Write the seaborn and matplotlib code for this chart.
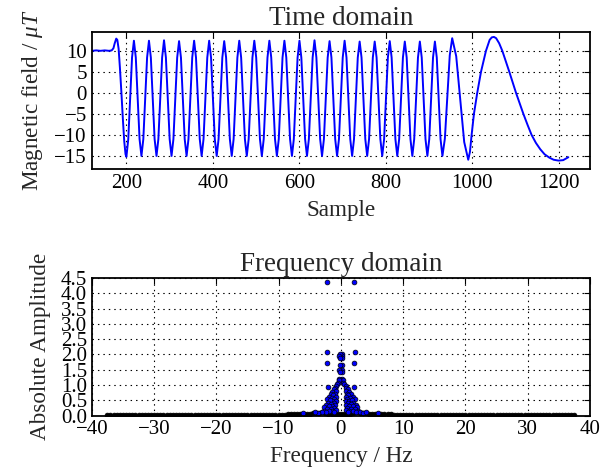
import numpy as np
import pandas as pd
import matplotlib
matplotlib.use("Agg")
import matplotlib.pyplot as plt
import seaborn as sns

# ---- time domain: magnetic field (uT) ----
lead_sample = [121, 130, 140, 150, 160, 166, 170, 173, 176.5, 179, 182, 185, 188.5, 192, 195, 198]
lead_field = [10.0, 10.1, 10.0, 10.1, 10.0, 10.1, 10.6, 11.8, 12.9, 12.6, 10.5, 6.0, 0.0, -6.5, -11.5, -14.6]

# one row per oscillation cycle (trough -> peak -> back towards trough)
osc_sample = [
    200.0, 204.35, 208.7, 213.05, 217.4, 221.75, 226.1, 230.45,
    234.8, 239.15, 243.5, 247.85, 252.2, 256.55, 260.9, 265.25,
    269.6, 273.95, 278.3, 282.65, 287.0, 291.35, 295.7, 300.05,
    304.4, 308.75, 313.1, 317.45, 321.8, 326.15, 330.5, 334.85,
    339.2, 343.55, 347.9, 352.25, 356.6, 360.95, 365.3, 369.65,
    374.0, 378.35, 382.7, 387.05, 391.4, 395.75, 400.1, 404.45,
    408.8, 413.15, 417.5, 421.85, 426.2, 430.55, 434.9, 439.25,
    443.6, 447.95, 452.3, 456.65, 461.0, 465.35, 469.7, 474.05,
    478.4, 482.75, 487.1, 491.45, 495.8, 500.15, 504.5, 508.85,
    513.2, 517.55, 521.9, 526.25, 530.6, 534.95, 539.3, 543.65,
    548.0, 552.35, 556.7, 561.05, 565.4, 569.75, 574.1, 578.45,
    582.8, 587.15, 591.5, 595.85, 600.2, 604.55, 608.9, 613.25,
    617.6, 621.95, 626.3, 630.65, 635.0, 639.35, 643.7, 648.05,
    652.4, 656.75, 661.1, 665.45, 669.8, 674.15, 678.5, 682.85,
    687.2, 691.55, 695.9, 700.25, 704.6, 708.95, 713.3, 717.65,
    722.0, 726.35, 730.7, 735.05, 739.4, 743.75, 748.1, 752.45,
    756.8, 761.15, 765.5, 769.85, 774.2, 778.55, 782.9, 787.25,
    791.6, 795.95, 800.3, 804.65, 809.0, 813.35, 817.7, 822.05,
    826.4, 830.75, 835.1, 839.45, 843.8, 848.15, 852.5, 856.85,
    861.2, 865.55, 869.9, 874.25, 878.6, 882.95, 887.3, 891.65,
    896.0, 900.35, 904.7, 909.05, 913.4, 917.75, 922.1, 926.45,
]
osc_field = [
    -15.2, -11.0, -1.3, 8.4, 12.4, 8.4, -1.3, -11.0,
    -15.0, -11.0, -1.3, 8.4, 12.4, 8.4, -1.3, -11.0,
    -15.0, -11.0, -1.3, 8.4, 12.5, 8.4, -1.3, -11.0,
    -15.0, -11.0, -1.3, 8.4, 12.3, 8.4, -1.3, -11.0,
    -15.0, -11.0, -1.3, 8.4, 12.4, 8.4, -1.3, -11.0,
    -15.0, -11.0, -1.3, 8.4, 12.4, 8.4, -1.3, -11.0,
    -15.0, -11.0, -1.3, 8.4, 12.3, 8.4, -1.3, -11.0,
    -15.0, -11.0, -1.3, 8.4, 12.4, 8.4, -1.3, -11.0,
    -15.0, -11.0, -1.3, 8.4, 12.4, 8.4, -1.3, -11.0,
    -15.0, -11.0, -1.3, 8.4, 12.4, 8.4, -1.3, -11.0,
    -15.0, -11.0, -1.3, 8.4, 12.4, 8.4, -1.3, -11.0,
    -15.0, -11.0, -1.3, 8.4, 12.4, 8.4, -1.3, -11.0,
    -15.0, -11.0, -1.3, 8.4, 12.5, 8.4, -1.3, -11.0,
    -15.0, -11.0, -1.3, 8.4, 12.3, 8.4, -1.3, -11.0,
    -15.0, -11.0, -1.3, 8.4, 12.4, 8.4, -1.3, -11.0,
    -15.0, -11.0, -1.3, 8.4, 12.2, 8.4, -1.3, -11.0,
    -15.0, -11.0, -1.3, 8.4, 12.2, 8.4, -1.3, -11.0,
    -15.0, -11.0, -1.3, 8.4, 12.3, 8.4, -1.3, -11.0,
    -15.0, -11.0, -1.3, 8.4, 12.2, 8.4, -1.3, -11.0,
    -15.0, -11.0, -1.3, 8.4, 12.2, 8.4, -1.3, -11.0,
    -15.0, -11.0, -1.3, 8.4, 12.2, 8.4, -1.3, -11.0,
]

tail_sample = [930.8, 936.45, 942.1, 947.75, 953.4, 962.7, 971.9, 981.2, 990.5, 994.5,
               998.3, 1003.7, 1011.3, 1020.0, 1031.5, 1040.0, 1045.0, 1050.0, 1055.0, 1062.0,
               1069.3, 1085.5, 1101.0, 1118.0, 1128.0, 1137.0, 1147.0, 1157.0, 1167.0, 1178.0,
               1188.0, 1199.0, 1210.0, 1222.0]
tail_field = [-15.0, -10.9, -1.0, 8.9, 13.0, 8.7, -1.5, -11.7, -15.9, -14.0,
              -10.0, -5.0, 0.0, 5.0, 10.0, 12.6, 13.2, 13.3, 13.0, 11.8,
              10.0, 5.0, 0.0, -5.0, -7.7, -10.0, -11.9, -13.4, -14.6, -15.4,
              -15.9, -16.1, -16.0, -15.3]

# ---- frequency domain: absolute amplitude per frequency bin ----
base_freq = [
    -37.5, -37.0, -36.5, -36.0, -35.5, -35.0, -34.5, -34.0, -33.5, -33.0,
    -32.5, -32.0, -31.5, -31.0, -30.5, -30.0, -29.5, -29.0, -28.5, -28.0,
    -27.5, -27.0, -26.5, -26.0, -25.5, -25.0, -24.5, -24.0, -23.5, -23.0,
    -22.5, -22.0, -21.5, -21.0, -20.5, -20.0, -19.5, -19.0, -18.5, -18.0,
    -17.5, -17.0, -16.5, -16.0, -15.5, -15.0, -14.5, -14.0, -13.5, -13.0,
    -12.5, -12.0, -11.5, -11.0, -10.5, -10.0, -9.5, -9.0, -8.5, -8.0,
    -7.5, -7.0, -6.5, -6.0, -5.5, -5.0, -4.5, -4.0, -3.5, -3.0,
    -2.5, -2.0, -1.5, -1.0, -0.5, 0.0, 0.5, 1.0, 1.5, 2.0,
    2.5, 3.0, 3.5, 4.0, 4.5, 5.0, 5.5, 6.0, 6.5, 7.0,
    7.5, 8.0, 8.5, 9.0, 9.5, 10.0, 10.5, 11.0, 11.5, 12.0,
    12.5, 13.0, 13.5, 14.0, 14.5, 15.0, 15.5, 16.0, 16.5, 17.0,
    17.5, 18.0, 18.5, 19.0, 19.5, 20.0, 20.5, 21.0, 21.5, 22.0,
    22.5, 23.0, 23.5, 24.0, 24.5, 25.0, 25.5, 26.0, 26.5, 27.0,
    27.5, 28.0, 28.5, 29.0, 29.5, 30.0, 30.5, 31.0, 31.5, 32.0,
    32.5, 33.0, 33.5, 34.0, 34.5, 35.0, 35.5, 36.0, 36.5, 37.0,
    37.5,
]
base_amp = [
    0.02, 0.02, 0.02, 0.02, 0.02, 0.02, 0.02, 0.02, 0.02, 0.02,
    0.02, 0.02, 0.02, 0.02, 0.02, 0.02, 0.02, 0.02, 0.02, 0.02,
    0.02, 0.02, 0.02, 0.02, 0.02, 0.02, 0.02, 0.02, 0.02, 0.02,
    0.02, 0.02, 0.02, 0.02, 0.02, 0.022, 0.022, 0.022, 0.022, 0.022,
    0.022, 0.022, 0.022, 0.022, 0.025, 0.025, 0.025, 0.025, 0.025, 0.025,
    0.028, 0.028, 0.028, 0.03, 0.03, 0.03, 0.032, 0.032, 0.035, 0.035,
    0.04, 0.04, 0.045, 0.05, 0.055, 0.06, 0.07, 0.08, 0.09, 0.1,
    0.07, 0.06, 0.05, 0.05, 0.05, 0.05, 0.05, 0.05, 0.06, 0.07,
    0.1, 0.09, 0.08, 0.07, 0.06, 0.055, 0.05, 0.045, 0.04, 0.04,
    0.035, 0.035, 0.032, 0.032, 0.03, 0.03, 0.03, 0.028, 0.028, 0.028,
    0.025, 0.025, 0.025, 0.025, 0.025, 0.025, 0.022, 0.022, 0.022, 0.022,
    0.022, 0.022, 0.022, 0.022, 0.022, 0.02, 0.02, 0.02, 0.02, 0.02,
    0.02, 0.02, 0.02, 0.02, 0.02, 0.02, 0.02, 0.02, 0.02, 0.02,
    0.02, 0.02, 0.02, 0.02, 0.02, 0.02, 0.02, 0.02, 0.02, 0.02,
    0.02, 0.02, 0.02, 0.02, 0.02, 0.02, 0.02, 0.02, 0.02, 0.02,
    0.02,
]

# the bins that stand out near 0 Hz (positive side, then negative side)
peak_freq = [
    2.17, 2.2, 2.15, 2.05,
    0.2, 0.22, 0.18, 0.2, 0.22, 0.2, 0.25, 0.3, 0.4, 0.55,
    0.8, 0.85, 1.1, 0.8, 1.3, 0.95, 1.6, 1.2, 0.8, 1.9, 1.5, 1.05, 2.2, 0.8, 1.35, 1.8,
    2.0, 1.1, 1.6, 2.35, 0.85, 1.3, 1.9, 2.6, 1.05, 1.6, 2.2, 0.8, 1.35, 1.9, 2.7, 1.1,
    2.4, 3.0, 3.5, 4.1, 6.0,
    -2.17, -2.2, -2.15, -2.1,
    -0.22, -0.25, -0.2, -0.22, -0.25, -0.22, -0.28, -0.32, -0.42, -0.6,
    -0.85, -0.9, -1.15, -0.85, -1.35, -1.0, -1.6, -1.25, -0.85, -1.95, -1.5, -1.1, -2.25, -0.85, -1.4, -1.8,
    -2.05, -1.15, -1.65, -2.4, -0.9, -1.35, -1.95, -2.65, -1.1, -1.65, -2.25, -0.85, -1.4, -1.95, -2.75, -1.15,
    -2.45, -3.05, -3.6, -4.1, -6.1,
]
peak_amp = [
    4.38, 2.09, 1.71, 0.93,
    2.02, 1.95, 1.87, 1.65, 1.5, 1.43, 1.2, 1.16, 1.07, 1.02,
    0.98, 0.9, 0.86, 0.8, 0.78, 0.72, 0.7, 0.66, 0.62, 0.62, 0.58, 0.54, 0.55, 0.48, 0.47, 0.5,
    0.42, 0.4, 0.38, 0.36, 0.33, 0.3, 0.3, 0.27, 0.24, 0.22, 0.2, 0.17, 0.15, 0.14, 0.14, 0.1,
    0.1, 0.1, 0.07, 0.12, 0.08,
    4.38, 2.09, 1.71, 0.93,
    2.02, 1.95, 1.87, 1.65, 1.5, 1.43, 1.2, 1.16, 1.07, 1.02,
    0.98, 0.9, 0.86, 0.8, 0.78, 0.72, 0.7, 0.66, 0.62, 0.62, 0.58, 0.54, 0.55, 0.48, 0.47, 0.5,
    0.42, 0.4, 0.38, 0.36, 0.33, 0.3, 0.3, 0.27, 0.24, 0.22, 0.2, 0.17, 0.15, 0.14, 0.14, 0.1,
    0.1, 0.1, 0.07, 0.12, 0.08,
]

time_df = pd.DataFrame({
    "sample": lead_sample + osc_sample + tail_sample,
    "field": lead_field + osc_field + tail_field,
})
base_df = pd.DataFrame({"freq": base_freq, "amp": base_amp})
peak_df = pd.DataFrame({"freq": peak_freq, "amp": peak_amp})

sns.set_style("white")
plt.rcParams["font.family"] = ["Liberation Serif", "DejaVu Serif"]
plt.rcParams["mathtext.fontset"] = "custom"
plt.rcParams["mathtext.rm"] = "Liberation Serif"
plt.rcParams["mathtext.it"] = "Liberation Serif:italic"
plt.rcParams["font.size"] = 15
plt.rcParams["axes.edgecolor"] = "black"
plt.rcParams["axes.linewidth"] = 1.3
plt.rcParams["xtick.direction"] = "in"
plt.rcParams["ytick.direction"] = "in"
plt.rcParams["xtick.top"] = True
plt.rcParams["ytick.right"] = True
plt.rcParams["xtick.major.size"] = 4
plt.rcParams["ytick.major.size"] = 4
plt.rcParams["xtick.color"] = "black"
plt.rcParams["ytick.color"] = "black"

fig, (ax1, ax2) = plt.subplots(2, 1, figsize=(6.12, 4.76), dpi=100)
fig.subplots_adjust(left=0.150, right=0.964, top=0.933, bottom=0.127, hspace=0.79)

grid_kw = dict(color="black", linestyle=(0, (1.3, 3.6)), linewidth=0.8)

sns.lineplot(data=time_df, x="sample", y="field", ax=ax1, color="blue", lw=1.4, sort=False)
ax1.set_xlim(120, 1272)
ax1.set_ylim(-18.2, 14.5)
ax1.set_xticks([200, 400, 600, 800, 1000, 1200])
ax1.set_yticks([-15, -10, -5, 0, 5, 10])
ax1.grid(True, **grid_kw)
ax1.set_title("Time domain", fontsize=19.5, pad=5)
ax1.set_xlabel("Sample", fontsize=16.7, labelpad=5)
ax1.set_ylabel(r"Magnetic field / $\mu T$", fontsize=16.7, labelpad=7)

# dense low bins overlap into a solid dark band
sns.scatterplot(data=base_df, x="freq", y="amp", ax=ax2, color="black",
                edgecolor="black", linewidth=0.5, s=12)
sns.scatterplot(data=peak_df, x="freq", y="amp", ax=ax2, color="blue",
                edgecolor="black", linewidth=0.5, s=12)
ax2.set_xlim(-40, 40)
ax2.set_ylim(0, 4.5)
ax2.set_xticks([-40, -30, -20, -10, 0, 10, 20, 30, 40])
ax2.set_yticks([0.0, 0.5, 1.0, 1.5, 2.0, 2.5, 3.0, 3.5, 4.0, 4.5])
ax2.set_yticklabels(["%.1f" % v for v in ax2.get_yticks()])
ax2.grid(True, **grid_kw)
ax2.set_title("Frequency domain", fontsize=19.5, pad=5)
ax2.set_xlabel("Frequency / Hz", fontsize=16.7, labelpad=5)
ax2.set_ylabel("Absolute Amplitude", fontsize=16.7, labelpad=7)

for ax in (ax1, ax2):
    for sp in ax.spines.values():
        sp.set_visible(True)
        sp.set_color("black")

fig.savefig("out.png", dpi=100)
